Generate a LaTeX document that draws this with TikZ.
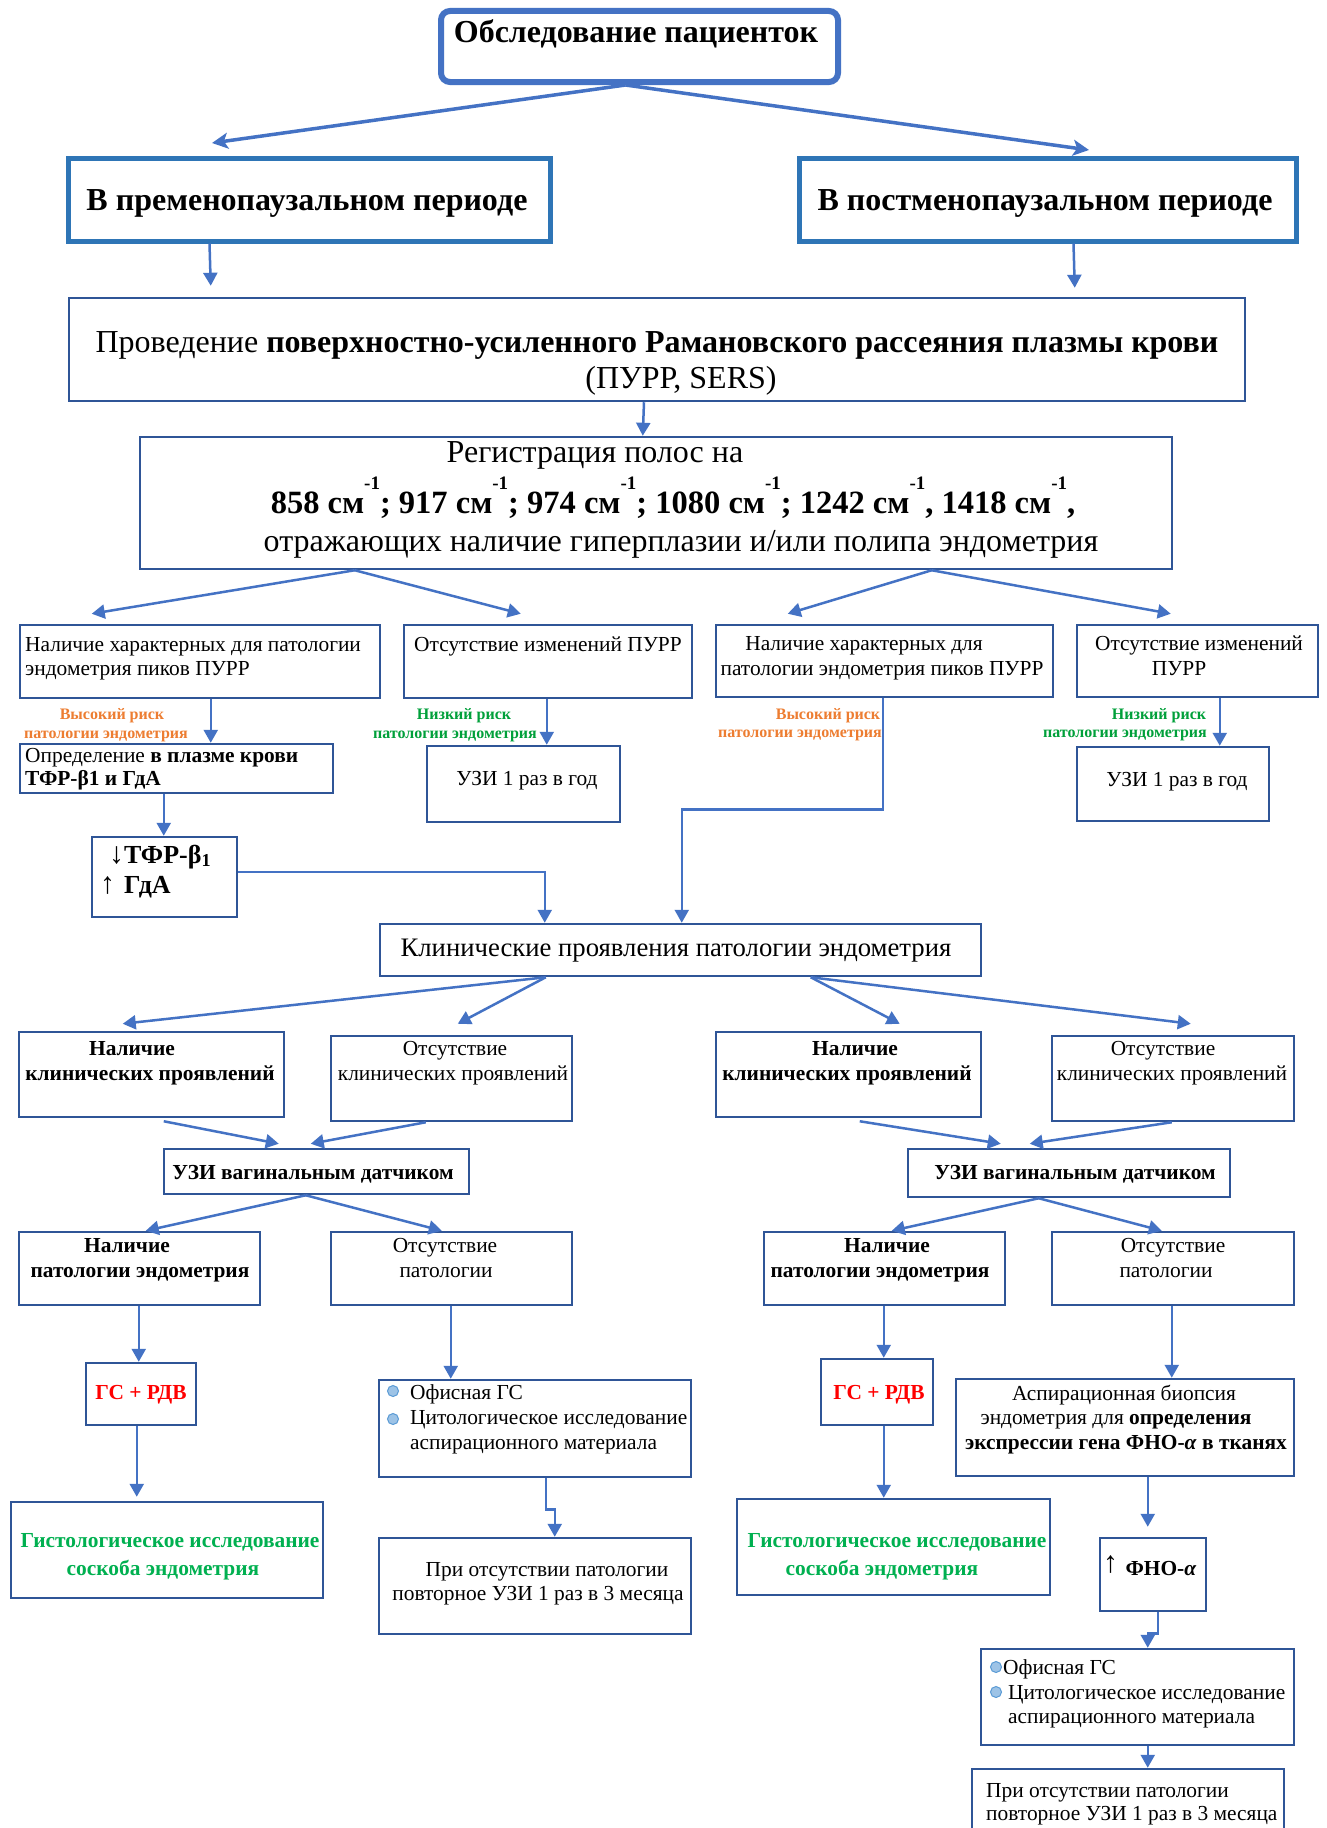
\documentclass[tikz,border=0pt]{standalone}
\usepackage{fontspec}
\setmainfont{Liberation Serif}
\usetikzlibrary{arrows.meta,calc}
\definecolor{bord}{HTML}{2F5597}
\definecolor{arrc}{HTML}{4472C4}
\definecolor{prec}{HTML}{2E75B6}
\definecolor{orng}{HTML}{ED7D31}
\definecolor{grn}{HTML}{00B050}
\definecolor{grnd}{HTML}{00A03A}
\definecolor{redc}{HTML}{FF0000}
\definecolor{bulf}{HTML}{9DC3E6}
\definecolor{bulb}{HTML}{5B9BD5}
\newcommand{\mkbox}[6][]{\node[box,#1,minimum width={#5-#3},minimum height={#6-#4}] (#2) at ({(#3+#5)/2},{(#4+#6)/2}) {};}
\newcommand{\supm}{\raisebox{24pt}{\fontsize{19}{20}\selectfont -1}}
\newcommand{\bigarr}[1]{{\mdseries\fontsize{30}{30}\selectfont #1}}
\begin{document}
\begin{tikzpicture}[x=1pt,y=-1pt,
  box/.style={draw=bord,line width=2.5pt,inner sep=0pt,fill=white},
  tx/.style={inner sep=0pt,anchor=base},
  txl/.style={inner sep=0pt,anchor=base west},
  fB/.style={font=\fontsize{32}{36}\selectfont,yshift=-10pt},
  fBb/.style={font=\fontsize{32}{36}\selectfont\bfseries,yshift=-10pt},
  fN/.style={font=\fontsize{32.5}{36}\selectfont\bfseries,yshift=-10pt},
  fM/.style={font=\fontsize{26.7}{30}\selectfont,yshift=-8.5pt},
  fS/.style={font=\fontsize{21.4}{25}\selectfont,yshift=-7.5pt},
  fSb/.style={font=\fontsize{21.4}{25}\selectfont\bfseries,yshift=-7.5pt},
  fC/.style={font=\fontsize{26}{30}\selectfont\bfseries,yshift=-8pt},
  fL/.style={font=\fontsize{16}{18}\selectfont\bfseries,yshift=-5.5pt},
  bul/.style={circle,fill=bulf,draw=bulb,line width=1pt,minimum size=11pt,inner sep=0pt},
  arr/.style={draw=arrc,line width=2.5pt,-{Triangle[length=13pt,width=14pt]}},
  arrT/.style={draw=arrc,line width=3.5pt,-{Stealth[length=16pt,width=16pt,inset=4pt]}}]
\useasboundingbox (0,0) rectangle (1327,1828);
\fill[white] (0,0) rectangle (1327,1828);
\clip (0,0) rectangle (1327,1828);

% ---------- boxes ----------
\mkbox[draw=arrc,line width=6pt,rounded corners=9pt]{T}{441}{11}{838}{82}
\mkbox[draw=prec,line width=5pt]{P1}{68}{158}{550}{241}
\mkbox[draw=prec,line width=5pt]{P2}{799}{158}{1296}{241}
\mkbox{R}{69}{298}{1245}{401}
\mkbox{S}{140}{437}{1172}{569}
\mkbox{A1}{20}{625}{380}{698}
\mkbox{A2}{404}{625}{692}{698}
\mkbox{A3}{716}{625}{1053}{697}
\mkbox{A4}{1077}{625}{1318}{697}
\mkbox{B1}{20}{744}{333}{793}
\mkbox{C2}{427}{746}{620}{822}
\mkbox{C1}{92}{837}{237}{917}
\mkbox{C4}{1077}{747}{1269}{821}
\mkbox{D}{380}{924}{981}{976}
\mkbox{E1}{19}{1032}{284}{1117}
\mkbox{E2}{331}{1036}{572}{1121}
\mkbox{E3}{716}{1032}{981}{1117}
\mkbox{E4}{1052}{1036}{1294}{1121}
\mkbox{F1}{164}{1149}{469}{1194}
\mkbox{F2}{908}{1149}{1230}{1197}
\mkbox{G1}{19}{1232}{260}{1305}
\mkbox{G2}{331}{1232}{572}{1305}
\mkbox{G3}{764}{1232}{1005}{1305}
\mkbox{G4}{1052}{1232}{1294}{1305}
\mkbox{H1}{86}{1363}{196}{1425}
\mkbox{I1}{11}{1502}{323}{1598}
\mkbox{J2}{379}{1380}{691}{1477}
\mkbox{K2}{379}{1538}{691}{1634}
\mkbox{H3}{821}{1359}{933}{1425}
\mkbox{I3}{737}{1499}{1050}{1595}
\mkbox{J4}{956}{1379}{1294}{1476}
\mkbox{K4}{1100}{1538}{1206}{1611}
\mkbox{L4}{981}{1649}{1294}{1745}
\mkbox{M4}{972}{1769}{1284}{1850}

% ---------- texts ----------
\node[tx,fBb] (tT) at (636,33) {Обследование пациенток};
\node[tx,fBb] (tP1) at (307,200) {В пременопаузальном периоде};
\node[tx,fBb] (tP2) at (1045,200) {В постменопаузальном периоде};
\node[tx,fB] (tR1) at (657,342) {Проведение \textbf{поверхностно-усиленного Рамановского рассеяния плазмы крови}};
\node[tx,fB] (tR2) at (681,378) {(ПУРР, SERS)};
\node[tx,fB] (tS1) at (595,452) {Регистрация полос на};
\node[tx,fN] (tS2) at (673,503) {858 см\supm; 917 см\supm; 974 см\supm; 1080 см\supm; 1242 см\supm, 1418 см\supm,};
\node[tx,fB] (tS3) at (681,541) {отражающих наличие гиперплазии и/или полипа эндометрия};

\node[txl,fS] (tA1a) at (25,644) {Наличие характерных для патологии};
\node[txl,fS] (tA1b) at (25,668) {эндометрия пиков ПУРР};
\node[tx,fS] (tA2) at (548,644) {Отсутствие изменений ПУРР};
\node[tx,fS] (tA3a) at (864,643) {Наличие характерных для};
\node[tx,fS] (tA3b) at (882,668) {патологии эндометрия пиков ПУРР};
\node[tx,fS] (tA4a) at (1199,643) {Отсутствие изменений};
\node[tx,fS] (tA4b) at (1179,668) {ПУРР};

\node[tx,fL,text=orng] (l1a) at (112,714) {Высокий риск};
\node[tx,fL,text=orng] (l1b) at (106,733) {патологии эндометрия};
\node[tx,fL,text=grnd] (l2a) at (464,714) {Низкий риск};
\node[tx,fL,text=grnd] (l2b) at (455,733) {патологии эндометрия};
\node[tx,fL,text=orng] (l3a) at (828,714) {Высокий риск};
\node[tx,fL,text=orng] (l3b) at (800,732) {патологии эндометрия};
\node[tx,fL,text=grnd] (l4a) at (1159,714) {Низкий риск};
\node[tx,fL,text=grnd] (l4b) at (1125,732) {патологии эндометрия};

\node[txl,fS] (tB1a) at (25,755) {Определение \textbf{в плазме крови}};
\node[txl,fSb] (tB1b) at (25,778) {ТФР-β1 и ГдА};
\node[tx,fS] (tC2) at (527,778) {УЗИ 1 раз в год};
\node[txl,fC] (tC1a) at (109,855) {\bigarr{↓}ТФР-β\textsubscript{1}};
\node[txl,fC] (tC1b) at (100,885) {\bigarr{↑}\hspace{9pt}ГдА};
\node[tx,fS] (tC4) at (1177,779) {УЗИ 1 раз в год};

\node[tx,fM] (tD) at (676,948) {Клинические проявления патологии эндометрия};

\node[tx,fSb] (tE1a) at (132,1048) {Наличие};
\node[tx,fSb] (tE1b) at (150,1073) {клинических проявлений};
\node[tx,fS] (tE2a) at (455,1048) {Отсутствие};
\node[tx,fS] (tE2b) at (453,1073) {клинических проявлений};
\node[tx,fSb] (tE3a) at (855,1048) {Наличие};
\node[tx,fSb] (tE3b) at (847,1073) {клинических проявлений};
\node[tx,fS] (tE4a) at (1163,1048) {Отсутствие};
\node[tx,fS] (tE4b) at (1172,1073) {клинических проявлений};

\node[tx,fSb] (tF1) at (313,1172) {УЗИ вагинальным датчиком};
\node[tx,fSb] (tF2) at (1075,1172) {УЗИ вагинальным датчиком};

\node[tx,fSb] (tG1a) at (127,1245) {Наличие};
\node[tx,fSb] (tG1b) at (140,1270) {патологии эндометрия};
\node[tx,fS] (tG2a) at (445,1245) {Отсутствие};
\node[tx,fS] (tG2b) at (446,1270) {патологии};
\node[tx,fSb] (tG3a) at (887,1245) {Наличие};
\node[tx,fSb] (tG3b) at (880,1270) {патологии эндометрия};
\node[tx,fS] (tG4a) at (1173,1245) {Отсутствие};
\node[tx,fS] (tG4b) at (1166,1270) {патологии};

\node[tx,fSb,text=redc] (tH1) at (141,1392) {ГС + РДВ};
\node[tx,fSb,text=redc] (tH3) at (879,1392) {ГС + РДВ};
\node[tx,fSb,text=grn] (tI1a) at (170,1540) {Гистологическое исследование};
\node[tx,fSb,text=grn] (tI1b) at (163,1568) {соскоба эндометрия};
\node[tx,fSb,text=grn] (tI3a) at (897,1540) {Гистологическое исследование};
\node[tx,fSb,text=grn] (tI3b) at (882,1568) {соскоба эндометрия};

\node[bul] (b1) at (393,1391) {};
\node[bul] (b2) at (393,1419) {};
\node[txl,fS] (tJ2a) at (410,1392) {Офисная ГС};
\node[txl,fS] (tJ2b) at (410,1417) {Цитологическое исследование};
\node[txl,fS] (tJ2c) at (410,1442) {аспирационного материала};
\node[tx,fS] (tK2a) at (547,1569) {При отсутствии патологии};
\node[tx,fS] (tK2b) at (538,1593) {повторное УЗИ 1 раз в 3 месяца};

\node[tx,fS] (tJ4a) at (1124,1393) {Аспирационная биопсия};
\node[tx,fS] (tJ4b) at (1116,1417) {эндометрия для \textbf{определения}};
\node[tx,fSb] (tJ4c) at (1126,1442) {экспрессии гена ФНО-\textit{α} в тканях};
\node[txl,font=\fontsize{30}{32}\selectfont] (tK4a) at (1103,1572) {↑};
\node[tx,fSb] (tK4b) at (1161,1568) {ФНО-\textit{α}};
\node[bul] (b3) at (996,1667) {};
\node[bul] (b4) at (996,1692) {};
\node[txl,fS] (tL4a) at (1003,1667) {Офисная ГС};
\node[txl,fS] (tL4b) at (1008,1692) {Цитологическое исследование};
\node[txl,fS] (tL4c) at (1008,1716) {аспирационного материала};
\node[txl,fS] (tM4a) at (986,1790) {При отсутствии патологии};
\node[txl,fS] (tM4b) at (986,1813) {повторное УЗИ 1 раз в 3 месяца};

% ---------- connectors ----------
\coordinate (cP1) at (212,143);
\coordinate (cP2) at (1089,150);
\draw[arrT] ([xshift=-14pt]T.south) -- (cP1);
\draw[arrT] ([xshift=-14pt]T.south) -- (cP2);
\draw[arr] ([xshift=144pt]P1.south west) -- ([xshift=143pt,yshift=11pt]R.north west);
\draw[arr] ([xshift=277pt]P2.south west) -- ([xshift=1007pt,yshift=9pt]R.north west);
\draw[arr] ([xshift=-13pt]R.south) -- ([xshift=504pt]S.north west);
\draw[arr] ([xshift=216pt]S.south west) -- ([xshift=73pt,yshift=10pt]A1.north west);
\draw[arr] ([xshift=216pt]S.south west) -- ([xshift=118pt,yshift=10pt]A2.north west);
\draw[arr] ([xshift=793pt]S.south west) -- ([xshift=73pt,yshift=10pt]A3.north west);
\draw[arr] ([xshift=793pt]S.south west) -- ([xshift=95pt,yshift=10pt]A4.north west);
\draw[arr] ([xshift=192pt]A1.south west) -- ([xshift=192pt]B1.north west);
\draw[arr] ([xshift=144pt]A2.south west) -- ([xshift=121pt]C2.north west);
\draw[arr] ([xshift=168pt]A3.south west) -- ++(0,111) -| ([xshift=303pt]D.north west);
\draw[arr] ([xshift=144pt]A4.south west) -- ([xshift=144pt]C4.north west);
\draw[arr] ([xshift=145pt]B1.south west) -- ([xshift=73pt]C1.north west);
\draw[arr] ([yshift=5pt]C1.east) -| ([xshift=166pt]D.north west);
\draw[arr] ([xshift=167pt]D.south west) -- ([xshift=105pt,yshift=7pt]E1.north west);
\draw[arr] ([xshift=167pt]D.south west) -- ([xshift=128pt,yshift=11pt]E2.north west);
\draw[arr] ([xshift=432pt]D.south west) -- ([xshift=185pt,yshift=7pt]E3.north west);
\draw[arr] ([xshift=432pt]D.south west) -- ([xshift=140pt,yshift=11pt]E4.north west);
\draw[arr] ([xshift=146pt,yshift=-3pt]E1.south west) -- ([xshift=116pt,yshift=4pt]F1.north west);
\draw[arr] ([xshift=96pt]E2.south west) -- ([xshift=148pt,yshift=4pt]F1.north west);
\draw[arr] ([xshift=145pt,yshift=-3pt]E3.south west) -- ([xshift=94pt,yshift=4pt]F2.north west);
\draw[arr] ([xshift=121pt]E4.south west) -- ([xshift=123pt,yshift=4pt]F2.north west);
\draw[arr] ([xshift=143pt]F1.south west) -- ([xshift=128pt]G1.north west);
\draw[arr] ([xshift=143pt]F1.south west) -- ([xshift=112pt]G2.north west);
\draw[arr] ([xshift=132pt]F2.south west) -- ([xshift=129pt]G3.north west);
\draw[arr] ([xshift=132pt]F2.south west) -- ([xshift=111pt]G4.north west);
\draw[arr] ([xshift=121pt]G1.south west) -- ([xshift=54pt]H1.north west);
\draw[arr] ([xshift=52pt]H1.south west) -- ([xshift=127pt,yshift=4pt]I1.north west);
\draw[arr] ([xshift=121pt]G2.south west) -- ([xshift=73pt]J2.north west);
\draw[arr] ([xshift=168pt]J2.south west) -- ++(0,31) -| ([xshift=177pt]K2.north west);
\draw[arr] ([xshift=121pt]G3.south west) -- ([xshift=64pt]H3.north west);
\draw[arr] ([xshift=64pt]H3.south west) -- ([xshift=148pt]I3.north west);
\draw[arr] ([xshift=121pt]G4.south west) -- ([xshift=217pt]J4.north west);
\draw[arr] ([xshift=193pt]J4.south west) -- ([xshift=49pt,yshift=10pt]K4.north west);
\draw[arr] ([xshift=59pt]K4.south west) -- ++(0,21) -| ([xshift=168pt]L4.north west);
\draw[arr] ([xshift=168pt]L4.south west) -- ([xshift=177pt]M4.north west);
\end{tikzpicture}
\end{document}
